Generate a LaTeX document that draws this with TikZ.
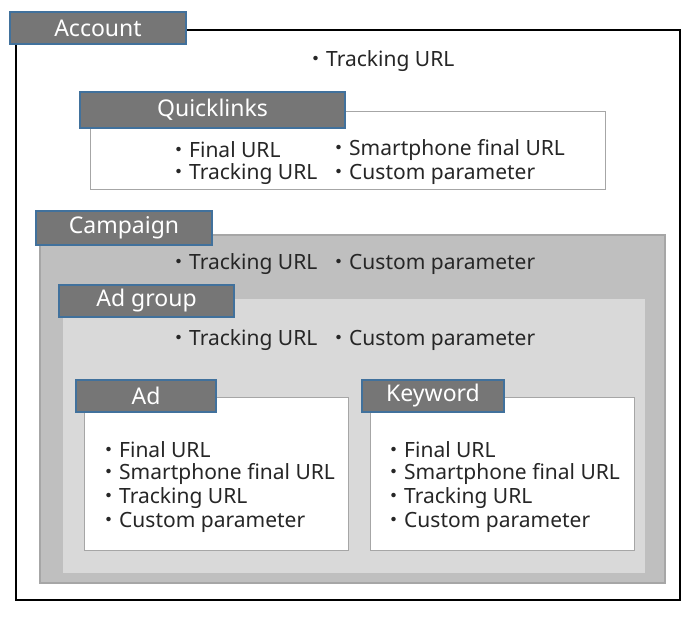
\documentclass[tikz,border=0pt]{standalone}
\usepackage{fontspec}
\setmainfont{Noto Sans}
\newfontfamily\cjk{Noto Sans CJK JP}
\newcommand{\bul}{{\cjk ・}}
\begin{document}
\begin{tikzpicture}[x=1pt,y=-1pt,
  tab/.style={draw=tabb,fill=tabf,line width=1.5pt,text=white,font=\fontsize{23}{26}\selectfont},
  txt/.style={anchor=west,inner sep=0pt,font=\fontsize{21}{24}\selectfont,text=black!85}]
\definecolor{tabf}{HTML}{767676}
\definecolor{tabb}{HTML}{41719C}
\useasboundingbox (0,0) rectangle (698,620);
\fill[white] (0,0) rectangle (698,620);
% account
\draw[line width=1.6pt] (16,30) rectangle (680,600);
\draw[tab] (10,12) rectangle (186,44) node[midway] (acc) {Account};
\node[txt] (acct) at (305,61) {\bul Tracking URL};
% quicklinks
\draw[draw=black!35,line width=1pt] (90,112) rectangle (605,190);
\draw[tab] (80,92) rectangle (345,128) node[midway] (ql) {Quicklinks};
\node[txt] (q1) at (168,150) {\bul Final URL};
\node[txt] (q2) at (168,174) {\bul Tracking URL};
\node[txt] (q3) at (328,150) {\bul Smartphone final URL};
\node[txt] (q4) at (328,174) {\bul Custom parameter};
% campaign
\draw[draw=black!35,fill=black!25,line width=1.5pt] (40,235) rectangle (665,583);
\draw[tab] (36,211) rectangle (212,245) node[midway] (cp) {Campaign};
\node[txt] (c1) at (168,264) {\bul Tracking URL};
\node[txt] (c2) at (328,264) {\bul Custom parameter};
% ad group
\draw[draw=black!25,fill=black!15,line width=1.5pt] (62,298) rectangle (646,574);
\draw[tab] (59,285) rectangle (234,317) node[midway] (ag) {Ad group};
\node[txt] (g1) at (168,340) {\bul Tracking URL};
\node[txt] (g2) at (328,340) {\bul Custom parameter};
% ad
\draw[draw=black!35,fill=white,line width=1pt] (84,397) rectangle (348,550);
\draw[tab] (76,380) rectangle (216,412) node[midway] (ad) {Ad};
\node[txt] (a1) at (98,450) {\bul Final URL};
\node[txt] (a2) at (98,474) {\bul Smartphone final URL};
\node[txt] (a3) at (98,498) {\bul Tracking URL};
\node[txt] (a4) at (98,522) {\bul Custom parameter};
% keyword
\draw[draw=black!35,fill=white,line width=1pt] (370,397) rectangle (634,550);
\draw[tab] (362,380) rectangle (504,412) node[midway] (kw) {Keyword};
\node[txt] (k1) at (383,450) {\bul Final URL};
\node[txt] (k2) at (383,474) {\bul Smartphone final URL};
\node[txt] (k3) at (383,498) {\bul Tracking URL};
\node[txt] (k4) at (383,522) {\bul Custom parameter};
\end{tikzpicture}
\end{document}
